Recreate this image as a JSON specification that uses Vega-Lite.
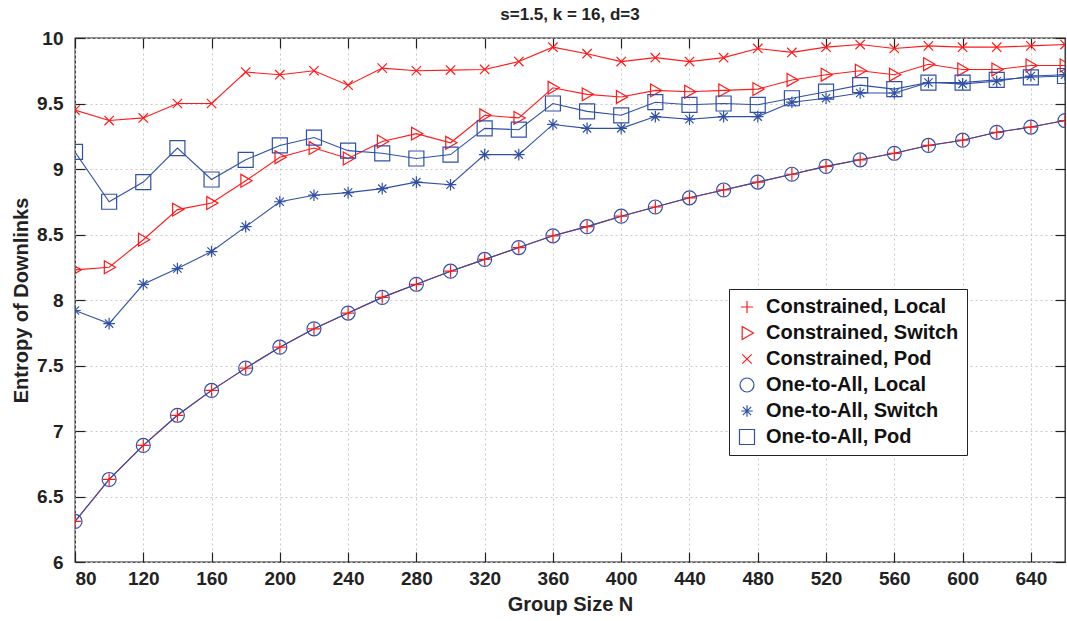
{
  "$schema": "https://vega.github.io/schema/vega-lite/v6.json",
  "autosize": {"type": "none"},
  "width": 990,
  "height": 524,
  "padding": {"left": 75, "top": 38, "right": 2, "bottom": 59},
  "background": "white",
  "title": {"text": "s=1.5, k = 16, d=3", "fontSize": 17, "fontWeight": "bold", "font": "Liberation Sans", "color": "#222", "offset": 5},
  "config": {
    "view": {"stroke": "#222", "strokeWidth": 1.3},
    "font": "Liberation Sans",
    "axis": {
      "labelFont": "Liberation Sans", "labelFontSize": 19, "labelFontWeight": "bold", "labelColor": "#222",
      "titleFont": "Liberation Sans", "titleFontSize": 20, "titleFontWeight": "bold", "titleColor": "#222",
      "gridColor": "#c8c8c8", "gridDash": [2, 3], "gridWidth": 1,
      "tickColor": "#222", "tickSize": -10, "tickWidth": 1.2, "domain": false
    }
  },
  "data": {"values": [
    {"N":80,"s":"Constrained, Local","v":6.31},{"N":100,"s":"Constrained, Local","v":6.63},{"N":120,"s":"Constrained, Local","v":6.89},{"N":140,"s":"Constrained, Local","v":7.12},{"N":160,"s":"Constrained, Local","v":7.31},{"N":180,"s":"Constrained, Local","v":7.48},{"N":200,"s":"Constrained, Local","v":7.64},{"N":220,"s":"Constrained, Local","v":7.78},{"N":240,"s":"Constrained, Local","v":7.9},{"N":260,"s":"Constrained, Local","v":8.02},{"N":280,"s":"Constrained, Local","v":8.12},{"N":300,"s":"Constrained, Local","v":8.22},{"N":320,"s":"Constrained, Local","v":8.31},{"N":340,"s":"Constrained, Local","v":8.4},{"N":360,"s":"Constrained, Local","v":8.49},{"N":380,"s":"Constrained, Local","v":8.56},{"N":400,"s":"Constrained, Local","v":8.64},{"N":420,"s":"Constrained, Local","v":8.71},{"N":440,"s":"Constrained, Local","v":8.78},{"N":460,"s":"Constrained, Local","v":8.84},{"N":480,"s":"Constrained, Local","v":8.9},{"N":500,"s":"Constrained, Local","v":8.96},{"N":520,"s":"Constrained, Local","v":9.02},{"N":540,"s":"Constrained, Local","v":9.07},{"N":560,"s":"Constrained, Local","v":9.12},{"N":580,"s":"Constrained, Local","v":9.18},{"N":600,"s":"Constrained, Local","v":9.22},{"N":620,"s":"Constrained, Local","v":9.28},{"N":640,"s":"Constrained, Local","v":9.32},{"N":660,"s":"Constrained, Local","v":9.37},

    {"N":80,"s":"Constrained, Switch","v":8.23},{"N":100,"s":"Constrained, Switch","v":8.25},{"N":120,"s":"Constrained, Switch","v":8.46},{"N":140,"s":"Constrained, Switch","v":8.69},{"N":160,"s":"Constrained, Switch","v":8.74},{"N":180,"s":"Constrained, Switch","v":8.91},{"N":200,"s":"Constrained, Switch","v":9.09},{"N":220,"s":"Constrained, Switch","v":9.16},{"N":240,"s":"Constrained, Switch","v":9.08},{"N":260,"s":"Constrained, Switch","v":9.21},{"N":280,"s":"Constrained, Switch","v":9.27},{"N":300,"s":"Constrained, Switch","v":9.2},{"N":320,"s":"Constrained, Switch","v":9.41},{"N":340,"s":"Constrained, Switch","v":9.39},{"N":360,"s":"Constrained, Switch","v":9.62},{"N":380,"s":"Constrained, Switch","v":9.57},{"N":400,"s":"Constrained, Switch","v":9.55},{"N":420,"s":"Constrained, Switch","v":9.6},{"N":440,"s":"Constrained, Switch","v":9.59},{"N":460,"s":"Constrained, Switch","v":9.6},{"N":480,"s":"Constrained, Switch","v":9.61},{"N":500,"s":"Constrained, Switch","v":9.68},{"N":520,"s":"Constrained, Switch","v":9.72},{"N":540,"s":"Constrained, Switch","v":9.75},{"N":560,"s":"Constrained, Switch","v":9.72},{"N":580,"s":"Constrained, Switch","v":9.8},{"N":600,"s":"Constrained, Switch","v":9.76},{"N":620,"s":"Constrained, Switch","v":9.76},{"N":640,"s":"Constrained, Switch","v":9.79},{"N":660,"s":"Constrained, Switch","v":9.79},

    {"N":80,"s":"Constrained, Pod","v":9.45},{"N":100,"s":"Constrained, Pod","v":9.37},{"N":120,"s":"Constrained, Pod","v":9.39},{"N":140,"s":"Constrained, Pod","v":9.5},{"N":160,"s":"Constrained, Pod","v":9.5},{"N":180,"s":"Constrained, Pod","v":9.74},{"N":200,"s":"Constrained, Pod","v":9.72},{"N":220,"s":"Constrained, Pod","v":9.75},{"N":240,"s":"Constrained, Pod","v":9.64},{"N":260,"s":"Constrained, Pod","v":9.77},{"N":280,"s":"Constrained, Pod","v":9.75},{"N":300,"s":"Constrained, Pod","v":9.755},{"N":320,"s":"Constrained, Pod","v":9.76},{"N":340,"s":"Constrained, Pod","v":9.82},{"N":360,"s":"Constrained, Pod","v":9.93},{"N":380,"s":"Constrained, Pod","v":9.88},{"N":400,"s":"Constrained, Pod","v":9.82},{"N":420,"s":"Constrained, Pod","v":9.85},{"N":440,"s":"Constrained, Pod","v":9.82},{"N":460,"s":"Constrained, Pod","v":9.85},{"N":480,"s":"Constrained, Pod","v":9.92},{"N":500,"s":"Constrained, Pod","v":9.89},{"N":520,"s":"Constrained, Pod","v":9.93},{"N":540,"s":"Constrained, Pod","v":9.95},{"N":560,"s":"Constrained, Pod","v":9.92},{"N":580,"s":"Constrained, Pod","v":9.94},{"N":600,"s":"Constrained, Pod","v":9.93},{"N":620,"s":"Constrained, Pod","v":9.93},{"N":640,"s":"Constrained, Pod","v":9.94},{"N":660,"s":"Constrained, Pod","v":9.95},

    {"N":80,"s":"One-to-All, Local","v":6.31},{"N":100,"s":"One-to-All, Local","v":6.63},{"N":120,"s":"One-to-All, Local","v":6.89},{"N":140,"s":"One-to-All, Local","v":7.12},{"N":160,"s":"One-to-All, Local","v":7.31},{"N":180,"s":"One-to-All, Local","v":7.48},{"N":200,"s":"One-to-All, Local","v":7.64},{"N":220,"s":"One-to-All, Local","v":7.78},{"N":240,"s":"One-to-All, Local","v":7.9},{"N":260,"s":"One-to-All, Local","v":8.02},{"N":280,"s":"One-to-All, Local","v":8.12},{"N":300,"s":"One-to-All, Local","v":8.22},{"N":320,"s":"One-to-All, Local","v":8.31},{"N":340,"s":"One-to-All, Local","v":8.4},{"N":360,"s":"One-to-All, Local","v":8.49},{"N":380,"s":"One-to-All, Local","v":8.56},{"N":400,"s":"One-to-All, Local","v":8.64},{"N":420,"s":"One-to-All, Local","v":8.71},{"N":440,"s":"One-to-All, Local","v":8.78},{"N":460,"s":"One-to-All, Local","v":8.84},{"N":480,"s":"One-to-All, Local","v":8.9},{"N":500,"s":"One-to-All, Local","v":8.96},{"N":520,"s":"One-to-All, Local","v":9.02},{"N":540,"s":"One-to-All, Local","v":9.07},{"N":560,"s":"One-to-All, Local","v":9.12},{"N":580,"s":"One-to-All, Local","v":9.18},{"N":600,"s":"One-to-All, Local","v":9.22},{"N":620,"s":"One-to-All, Local","v":9.28},{"N":640,"s":"One-to-All, Local","v":9.32},{"N":660,"s":"One-to-All, Local","v":9.37},

    {"N":80,"s":"One-to-All, Switch","v":7.92},{"N":100,"s":"One-to-All, Switch","v":7.82},{"N":120,"s":"One-to-All, Switch","v":8.12},{"N":140,"s":"One-to-All, Switch","v":8.24},{"N":160,"s":"One-to-All, Switch","v":8.37},{"N":180,"s":"One-to-All, Switch","v":8.56},{"N":200,"s":"One-to-All, Switch","v":8.75},{"N":220,"s":"One-to-All, Switch","v":8.8},{"N":240,"s":"One-to-All, Switch","v":8.82},{"N":260,"s":"One-to-All, Switch","v":8.85},{"N":280,"s":"One-to-All, Switch","v":8.9},{"N":300,"s":"One-to-All, Switch","v":8.88},{"N":320,"s":"One-to-All, Switch","v":9.11},{"N":340,"s":"One-to-All, Switch","v":9.11},{"N":360,"s":"One-to-All, Switch","v":9.34},{"N":380,"s":"One-to-All, Switch","v":9.31},{"N":400,"s":"One-to-All, Switch","v":9.31},{"N":420,"s":"One-to-All, Switch","v":9.4},{"N":440,"s":"One-to-All, Switch","v":9.38},{"N":460,"s":"One-to-All, Switch","v":9.4},{"N":480,"s":"One-to-All, Switch","v":9.4},{"N":500,"s":"One-to-All, Switch","v":9.51},{"N":520,"s":"One-to-All, Switch","v":9.54},{"N":540,"s":"One-to-All, Switch","v":9.58},{"N":560,"s":"One-to-All, Switch","v":9.58},{"N":580,"s":"One-to-All, Switch","v":9.66},{"N":600,"s":"One-to-All, Switch","v":9.65},{"N":620,"s":"One-to-All, Switch","v":9.67},{"N":640,"s":"One-to-All, Switch","v":9.71},{"N":660,"s":"One-to-All, Switch","v":9.72},

    {"N":80,"s":"One-to-All, Pod","v":9.13},{"N":100,"s":"One-to-All, Pod","v":8.75},{"N":120,"s":"One-to-All, Pod","v":8.9},{"N":140,"s":"One-to-All, Pod","v":9.16},{"N":160,"s":"One-to-All, Pod","v":8.92},{"N":180,"s":"One-to-All, Pod","v":9.07},{"N":200,"s":"One-to-All, Pod","v":9.18},{"N":220,"s":"One-to-All, Pod","v":9.24},{"N":240,"s":"One-to-All, Pod","v":9.14},{"N":260,"s":"One-to-All, Pod","v":9.12},{"N":280,"s":"One-to-All, Pod","v":9.08},{"N":300,"s":"One-to-All, Pod","v":9.11},{"N":320,"s":"One-to-All, Pod","v":9.31},{"N":340,"s":"One-to-All, Pod","v":9.3},{"N":360,"s":"One-to-All, Pod","v":9.5},{"N":380,"s":"One-to-All, Pod","v":9.44},{"N":400,"s":"One-to-All, Pod","v":9.41},{"N":420,"s":"One-to-All, Pod","v":9.51},{"N":440,"s":"One-to-All, Pod","v":9.49},{"N":460,"s":"One-to-All, Pod","v":9.5},{"N":480,"s":"One-to-All, Pod","v":9.49},{"N":500,"s":"One-to-All, Pod","v":9.54},{"N":520,"s":"One-to-All, Pod","v":9.59},{"N":540,"s":"One-to-All, Pod","v":9.64},{"N":560,"s":"One-to-All, Pod","v":9.61},{"N":580,"s":"One-to-All, Pod","v":9.66},{"N":600,"s":"One-to-All, Pod","v":9.66},{"N":620,"s":"One-to-All, Pod","v":9.68},{"N":640,"s":"One-to-All, Pod","v":9.7},{"N":660,"s":"One-to-All, Pod","v":9.71}
  ]},
  "layer": [
    {
      "mark": {"type": "line", "strokeWidth": 1.1, "clip": true},
      "encoding": {
        "x": {"field": "N", "type": "quantitative",
              "scale": {"domain": [80, 660], "nice": false, "zero": false},
              "axis": {"orient": "bottom", "title": "Group Size N", "values": [80,120,160,200,240,280,320,360,400,440,480,520,560,600,640], "grid": true, "labelPadding": 17, "titlePadding": 6}},
        "y": {"field": "v", "type": "quantitative",
              "scale": {"domain": [6, 10], "nice": false, "zero": false},
              "axis": {"orient": "left", "title": "Entropy of Downlinks", "values": [6,6.5,7,7.5,8,8.5,9,9.5,10], "format": ".1~f", "grid": true, "labelPadding": 22, "titlePadding": 5}},
        "color": {"field": "s", "type": "nominal", "title": null,
                  "scale": {"domain": ["Constrained, Local","Constrained, Switch","Constrained, Pod","One-to-All, Local","One-to-All, Switch","One-to-All, Pod"],
                            "range": ["#ff1a1a","#ff1a1a","#ff1a1a","#3050a8","#3050a8","#3050a8"]}},
        "detail": {"field": "s"}
      }
    },
    {
      "mark": {"type": "point", "filled": false, "strokeWidth": 1.2, "opacity": 1, "clip": true},
      "encoding": {
        "x": {"field": "N", "type": "quantitative",
              "axis": {"orient": "top", "title": null, "labels": false, "grid": false, "values": [80,120,160,200,240,280,320,360,400,440,480,520,560,600,640]}},
        "y": {"field": "v", "type": "quantitative",
              "axis": {"orient": "right", "title": null, "labels": false, "grid": false, "values": [6,6.5,7,7.5,8,8.5,9,9.5,10]}},
        "color": {"field": "s", "type": "nominal", "title": null},
        "shape": {"field": "s", "type": "nominal", "title": null,
                  "scale": {"domain": ["Constrained, Local","Constrained, Switch","Constrained, Pod","One-to-All, Local","One-to-All, Switch","One-to-All, Pod"],
                            "range": ["M-1,0H1M0,-1V1","M-0.75,-1L1,0L-0.75,1Z","M-0.7,-0.7L0.7,0.7M-0.7,0.7L0.7,-0.7","circle","M-0.8,0H0.8M0,-0.8V0.8M-0.57,-0.57L0.57,0.57M-0.57,0.57L0.57,-0.57","square"]},
                  "legend": {
                    "orient": "none", "legendX": 654, "legendY": 251,
                    "strokeColor": "#222", "fillColor": "white", "padding": 8,
                    "labelFont": "Liberation Sans", "labelFontSize": 20, "labelFontWeight": "bold", "labelColor": "#111", "labelLimit": 400,
                    "rowPadding": 6, "symbolStrokeWidth": 1.2, "symbolSize": 400, "labelOffset": 9
                  }},
        "size": {"field": "s", "type": "nominal",
                 "scale": {"domain": ["Constrained, Local","Constrained, Switch","Constrained, Pod","One-to-All, Local","One-to-All, Switch","One-to-All, Pod"],
                           "range": [150, 225, 256, 140, 256, 120]}}
      }
    }
  ],
  "resolve": {"axis": {"x": "independent", "y": "independent"}}
}
